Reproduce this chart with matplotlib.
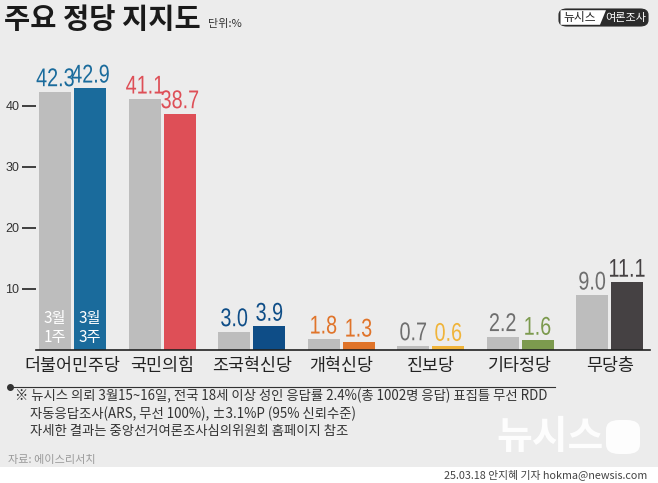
import matplotlib
matplotlib.use("Agg")
import matplotlib.pyplot as plt
from matplotlib.patches import FancyBboxPatch, PathPatch
from matplotlib.textpath import TextPath
from matplotlib.font_manager import FontProperties
from matplotlib.transforms import Affine2D, ScaledTranslation
import numpy as np

plt.rcParams['font.family'] = ['Noto Sans CJK KR', 'DejaVu Sans']

# data
parties = ['더불어민주당', '국민의힘', '조국혁신당', '개혁신당', '진보당', '기타정당', '무당층']
week1 = [42.3, 41.1, 3.0, 1.8, 0.7, 2.2, 9.0]
week3 = [42.9, 38.7, 3.9, 1.3, 0.6, 1.6, 11.1]
colors3 = ['#1a6b9c', '#de4f57', '#0e4d87', '#e0742a', '#f0b43a', '#7c9a4e', '#454143']
label1_colors = ['#1a6b9c', '#de4f57', '#0e4d87', '#e0742a', '#6e6e6e', '#6e6e6e', '#6e6e6e']
yticks = [10, 20, 30, 40]

DPI = 100
bg = '#ececec'
fig = plt.figure(figsize=(6.58, 4.83), dpi=DPI)
fig.patch.set_facecolor('white')


def fy(py):
    return 1 - py / 483


def fx(px):
    return px / 658


def narrow_text(ax, x, y, s, size, color, sx=0.77, family='Liberation Sans'):
    # condensed number label drawn as a path (no condensed font installed)
    tp = TextPath((0, 0), s, size=size, prop=FontProperties(family=family))
    bb = tp.get_extents()
    tr = (Affine2D().translate(-(bb.x0 + bb.width / 2), 0)
          .scale(sx * DPI / 72, DPI / 72)
          + ScaledTranslation(x, y, ax.transData))
    ax.add_patch(PathPatch(tp, transform=tr, facecolor=color, edgecolor='none',
                           clip_on=False))


# gray panel
fig.patches.append(plt.Rectangle((0, fy(467)), 1, 467 / 483, transform=fig.transFigure,
                                 facecolor=bg, edgecolor='none', zorder=-10))

ax = fig.add_axes([fx(36), fy(350), (650 - 36) / 658, 287 / 483])
ax.set_facecolor('none')
x = np.arange(len(parties))
w = 0.357
off = 0.196
ax.bar(x - off, week1, w, color='#bdbdbd')
ax.bar(x + off, week3, w, color=colors3)
ax.set_xlim(-0.41, 6.45)
ax.set_ylim(0, 47)

for i in range(len(parties)):
    narrow_text(ax, x[i] - off, week1[i] + 0.9, f'{week1[i]:.1f}', 18.5, label1_colors[i])
    narrow_text(ax, x[i] + off, week3[i] + 0.9, f'{week3[i]:.1f}', 18.5, colors3[i])

ax.text(x[0] - off, 0.7, '3월\n1주', ha='center', va='bottom', color='white', fontsize=11,
        linespacing=1.15)
ax.text(x[0] + off, 0.7, '3월\n3주', ha='center', va='bottom', color='white', fontsize=11,
        linespacing=1.15)

ax.set_xticks(x)
ax.set_xticklabels(parties, fontsize=12.5, color='#222222')
ax.set_yticks(yticks)
ax.set_yticklabels([str(t) for t in yticks], fontsize=9, family=['Liberation Sans'],
                   color='#333333')
ax.tick_params(axis='x', length=0, pad=5)
ax.tick_params(axis='y', length=10, width=1.2, direction='out', pad=2, color='#222222')
for s in ['top', 'right', 'left']:
    ax.spines[s].set_visible(False)
ax.spines['bottom'].set_color('#222222')
ax.spines['bottom'].set_linewidth(1.2)

# title
fig.text(fx(4), fy(20), '주요 정당 지지도', fontsize=20.5, fontweight='bold',
         va='center', ha='left', color='#1a1a1a')
fig.text(fx(208), fy(24), '단위:%', fontsize=8, va='center', ha='left', color='#333333')

# logo
lb = FancyBboxPatch((fx(559), fy(26)), 89 / 658, 17 / 483, transform=fig.transFigure,
                    boxstyle='round,pad=0,rounding_size=0.012', facecolor='#2b2b2b',
                    edgecolor='#2b2b2b', lw=0.8)
fig.patches.append(lb)
fig.patches.append(plt.Polygon([(fx(560.5), fy(24.8)), (fx(600), fy(24.8)),
                                (fx(606), fy(10.2)), (fx(560.5), fy(10.2))],
                               closed=True, transform=fig.transFigure, facecolor='white',
                               edgecolor='none'))
fig.text(fx(580), fy(17.5), '뉴시스', fontsize=8.5, ha='center', va='center', color='#222222')
fig.text(fx(626), fy(17.5), '여론조사', fontsize=8, ha='center', va='center', color='white')

# footer line
fig.lines.append(plt.Line2D([fx(10), fx(555)], [fy(387), fy(387)],
                            transform=fig.transFigure, color='#333333', lw=0.8))
fig.lines.append(plt.Line2D([fx(10)], [fy(387)], transform=fig.transFigure,
                            marker='o', markersize=4, color='#333333'))

notes = ['※ 뉴시스 의뢰 3월15~16일, 전국 18세 이상 성인 응답률 2.4%(총 1002명 응답) 표집틀 무선 RDD',
         '자동응답조사(ARS, 무선 100%), ±3.1%P (95% 신뢰수준)',
         '자세한 결과는 중앙선거여론조사심의위원회 홈페이지 참조']
note_x = [15, 30, 30]
for k, line in enumerate(notes):
    fig.text(fx(note_x[k]), fy(396 + k * 17.5), line, fontsize=9.6, va='center', ha='left',
             color='#333333')
fig.text(fx(8), fy(460), '자료: 에이스리서치', fontsize=8, va='center', ha='left',
         color='#9a9a9a')

# watermark
fig.text(fx(550), fy(437), '뉴시스', fontsize=28, fontweight='bold', va='center',
         ha='center', color='white', alpha=0.9)
fig.patches.append(FancyBboxPatch((fx(606), fy(454)), 34 / 658, 34 / 483,
                                  transform=fig.transFigure,
                                  boxstyle='round,pad=0,rounding_size=0.02',
                                  facecolor='white', edgecolor='none', alpha=0.9))

fig.text(fx(647), fy(475), '25.03.18 안지혜 기자 hokma@newsis.com', fontsize=7.8,
         va='center', ha='right', color='#444444')

fig.savefig('out.png', dpi=DPI, facecolor=fig.get_facecolor())
